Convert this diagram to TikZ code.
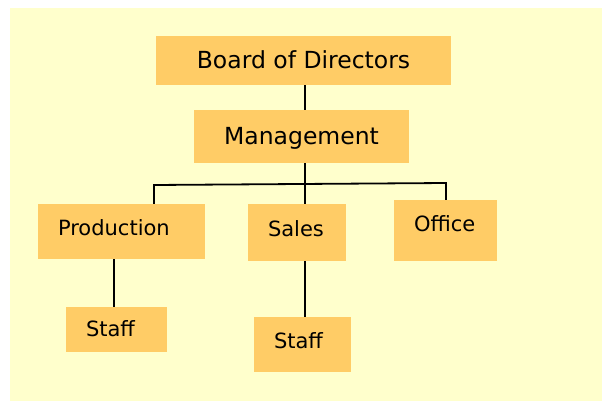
\documentclass[tikz,border=0pt]{standalone}
\usepackage{fontspec}
\setmainfont{DejaVu Sans}
\usetikzlibrary{positioning}
\definecolor{paper}{HTML}{FFFFCC}
\definecolor{unitfill}{HTML}{FFCC66}
\tikzset{
  unit/.style={fill=unitfill,inner xsep=20pt,inner ysep=0pt,align=left,text height=14.7pt,text depth=7.35pt,font=\fontsize{21}{25}\selectfont},
  topunit/.style={fill=unitfill,inner sep=0pt,align=center,text height=16.45pt,text depth=1.4pt,font=\fontsize{23.5}{28}\selectfont},
  link/.style={line width=1.8pt,draw=black}
}

\begin{document}
\begin{tikzpicture}[x=1pt,y=-1pt]
  \useasboundingbox (0,0) rectangle (602,401);
  \fill[paper] (10,8) rectangle (602,401);

  \node (board) [topunit,minimum width=295pt,minimum height=49pt] at (303.5,60.5) {Board of Directors};
  \node (mgmt) [topunit,minimum width=215pt,minimum height=53pt] at (301.5,136.5) {Management};
  \node (prod) [unit,text width=127pt,minimum height=55pt] at (121.5,231.5) {Production};
  \node (sales) [unit,text width=58pt,minimum height=57pt] at (297,232.5) {Sales};
  \node (office) [unit,text depth=13.4pt,text width=63pt,minimum height=61pt] at (445.5,230.5) {Office};
  \node (staffA) [unit,text depth=0pt,text width=61pt,minimum height=45pt] at (116.5,329.5) {Staff};
  \node (staffB) [unit,text width=57pt,minimum height=55pt] at (302.5,344.5) {Staff};

  % trunk and branch lines
  \coordinate (trunk) at (305,0);
  \coordinate (barL) at (154,185);
  \coordinate (barR) at (446,183);
  \coordinate (leg) at (114,0);

  \draw[link] (board.south -| trunk) -- (mgmt.north -| trunk);
  \draw[link] (mgmt.south -| trunk) -- (sales.north -| trunk);
  \draw[link] (prod.north -| barL) -- (barL) -- (barR) -- (office.north -| barR);
  \draw[link] (sales.south -| trunk) -- (staffB.north -| trunk);
  \draw[link] (prod.south -| leg) -- (staffA.north -| leg);
\end{tikzpicture}
\end{document}
